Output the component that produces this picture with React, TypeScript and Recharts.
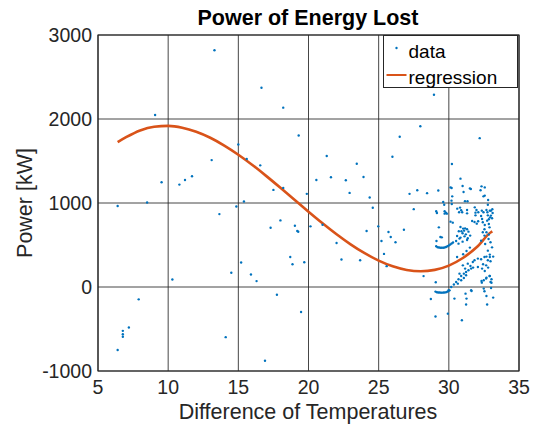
import {
  ComposedChart,
  XAxis,
  YAxis,
  CartesianGrid,
  Scatter,
  Line,
  ReferenceArea,
} from 'recharts';

// temperature difference / power pairs
const sparsePoints: [number, number][] = [
  [6.4, 965], [6.4, -750], [6.77, -522], [6.77, -562], [6.77, -593], [7.2, -483], [7.9, -147],
  [8.5, 1006], [9.07, 2048], [9.53, 1247], [10.3, 90], [10.8, 1219], [11.2, 1274], [11.7, 1318],
  [13.1, 1511], [13.3, 2818], [13.65, 868], [14.1, -597], [14.5, 169], [14.86, 959], [15.0, 1697],
  [15.2, 291], [15.4, 1018], [15.6, 1523], [15.9, 149], [16.3, 70], [16.56, 1448], [16.65, 2372],
  [16.9, -878], [17.3, 706], [17.5, 1156], [17.75, -92], [18.0, 793], [18.2, 1180], [18.2, 2135],
  [18.7, 358], [18.86, 271], [19.03, 729], [19.2, 666], [19.27, 658], [19.3, 1804], [19.47, -297],
  [19.7, 295], [19.88, 1109], [20.14, 722], [20.56, 1274], [21.0, 741], [21.3, 1559], [21.6, 1306],
  [22.0, 524], [22.35, 327], [22.66, 1270], [22.93, 1120], [23.44, 1468], [23.68, 319], [23.92, 1310],
  [24.14, 666], [24.36, 1065], [24.58, 943], [24.97, 722], [25.2, 548], [25.38, 394], [25.57, 248],
  [25.7, 654], [25.86, 595], [25.98, 1551], [26.2, 532], [26.5, 1788], [26.8, 682], [27.2, 1109],
  [27.5, 927], [27.75, 1152], [27.97, 1914], [28.2, 130], [28.45, 1117], [28.72, -143], [28.94, 2289],
];

const clusterUpper: [number, number][] = [
  [30.22, 1465], [30.83, 1290], [32.2, 1772], [29.25, 1148], [30.12, 1186], [30.2, 1178], [30.98, 1202],
  [31.5, 1174], [31.57, 1166], [31.05, 1131], [32.33, 1198], [32.56, 1186], [32.26, 1151], [32.56, 1088],
  [32.47, 1079], [30.24, 1079], [31.15, 1022], [29.6, 1012], [29.67, 980], [30.19, 1028], [30.21, 988],
  [31.33, 1020], [32.8, 1035], [32.78, 980], [29.1, 901], [29.15, 881], [29.7, 901], [29.79, 885],
  [29.7, 873], [29.86, 873], [30.6, 933], [30.8, 945], [30.88, 913], [30.95, 889], [30.73, 889],
  [31.3, 916], [31.3, 877], [31.85, 948], [31.97, 916], [31.9, 885], [32.1, 889], [32.35, 909],
  [32.47, 889], [32.68, 916], [32.75, 889], [32.92, 909], [33.0, 909], [33.1, 925], [33.12, 881],
  [32.3, 845], [32.37, 809], [32.78, 853], [32.94, 829], [33.0, 850], [33.08, 818], [32.85, 806],
  [31.9, 853], [31.66, 785], [31.83, 773], [32.09, 782], [31.99, 754], [30.12, 778], [30.28, 766],
];

const clusterMiddle: [number, number][] = [
  [29.29, 710], [30.83, 714], [31.02, 695], [31.16, 698], [31.3, 687], [31.4, 659], [31.09, 671],
  [30.9, 663], [30.71, 663], [30.98, 639], [31.21, 627], [31.12, 603], [30.83, 588], [30.76, 576],
  [30.59, 607], [30.52, 547], [30.69, 516], [30.98, 540], [31.3, 559], [31.52, 612], [31.35, 580],
  [32.42, 770], [32.56, 738], [32.73, 790], [32.85, 750], [32.9, 710], [32.54, 687], [32.68, 651],
  [32.85, 624], [32.42, 651], [32.54, 612], [32.83, 571], [32.3, 552], [32.59, 512], [32.97, 532],
  [33.08, 472], [32.78, 433], [32.92, 386], [33.16, 362], [32.68, 362],
  [29.1, 485], [29.2, 474], [29.3, 470], [29.4, 468], [29.5, 467], [29.6, 468], [29.7, 471],
  [29.8, 476], [29.9, 485], [30.0, 495], [30.1, 506], [30.2, 518], [30.3, 530],
  [29.12, 547], [29.4, 595], [29.5, 591], [31.02, 389], [31.26, 428], [31.5, 469],
];

const clusterLower: [number, number][] = [
  [30.59, 357], [31.0, 258], [31.16, 219], [31.35, 278], [31.54, 250], [31.71, 298], [31.83, 318],
  [32.07, 338], [32.3, 330], [32.54, 357], [32.78, 318], [32.92, 357], [32.97, 306], [32.37, 219],
  [32.07, 238], [32.66, 258], [31.73, 231], [32.44, 270], [32.56, 190], [32.8, 231], [32.68, 112],
  [32.92, 131], [33.04, 92], [32.33, 71],
  [29.98, -39], [30.17, 0], [30.36, 29], [30.52, 60], [30.69, 92], [30.88, 131], [31.07, 159],
  [31.23, 179], [31.4, 199], [31.59, 219], [30.88, 80], [31.07, 107], [31.23, 139], [30.76, 159],
  [30.64, 40],
  [29.05, -55], [29.15, -62], [29.25, -65], [29.35, -66], [29.45, -67], [29.55, -67], [29.65, -66],
  [29.75, -64], [29.85, -60], [29.95, -52], [30.05, -40],
  [29.07, 56], [29.05, -352], [29.93, -317], [30.4, -138], [30.93, -396], [31.19, -79], [31.26, -138],
  [31.23, -209], [31.59, -39], [32.49, -19], [32.54, -51], [32.73, -209], [33.01, -12], [32.49, 80],
  [32.66, 100], [32.9, 131], [32.97, 60], [32.35, 52], [31.62, -48], [32.68, -107], [33.16, -126],
  [33.04, 51],
];

// fitted curve, read at each degree
const regressionTemps = [
  6.4, 7, 8, 9, 10, 11, 12, 13, 14, 15, 16, 17, 18, 19, 20, 21, 22, 23, 24, 25, 26, 27, 28, 29, 30,
  31, 32, 33, 33.1,
];
const regressionPowers = [
  1725, 1783, 1864, 1908, 1918, 1897, 1849, 1777, 1684, 1575, 1453, 1320, 1181, 1039, 897, 759, 628,
  508, 402, 314, 246, 203, 188, 204, 255, 345, 476, 652, 662,
];

const xTicks = [5, 10, 15, 20, 25, 30, 35];
const yTicks = [-1000, 0, 1000, 2000, 3000];

const scatterData = [...sparsePoints, ...clusterUpper, ...clusterMiddle, ...clusterLower].map(
  ([temp, power]) => ({ temp, power })
);
const regressionData = regressionTemps.map((temp, i) => ({ temp, power: regressionPowers[i] }));

const BLUE = '#0072BD';
const ORANGE = '#D95319';
const INK = '#262626';
const FONT = '"Liberation Sans", Arial, Helvetica, sans-serif';

const Dot = (props: any) => {
  const { cx, cy } = props;
  if (cx == null || cy == null) return null;
  return <circle cx={cx} cy={cy} r={1.2} fill={BLUE} />;
};

export default function App() {
  return (
    <div style={{ position: 'absolute', left: 0, top: 0, width: 534, height: 428, background: '#fff' }}>
      <ComposedChart
        width={534}
        height={428}
        margin={{ top: 35, right: 15, bottom: 0, left: 0 }}
        style={{ fontFamily: FONT }}
      >
        <CartesianGrid stroke={INK} strokeOpacity={0.85} strokeWidth={1} />
        <XAxis
          dataKey="temp"
          type="number"
          domain={[5, 35]}
          ticks={xTicks}
          allowDataOverflow
          height={57}
          axisLine={false}
          tickLine={false}
          tickSize={0}
          tickMargin={9}
          tick={{ fontSize: 19.5, fill: INK, fontFamily: FONT }}
        />
        <YAxis
          type="number"
          domain={[-1000, 3000]}
          ticks={yTicks}
          allowDataOverflow
          width={98}
          axisLine={false}
          tickLine={false}
          tickSize={0}
          tickMargin={6}
          tick={{ fontSize: 19.5, fill: INK, fontFamily: FONT }}
        />
        <ReferenceArea
          x1={5}
          x2={35}
          y1={-1000}
          y2={3000}
          fill="none"
          stroke={INK}
          strokeWidth={1.2}
          strokeOpacity={1}
        />
        <Scatter data={scatterData} dataKey="power" shape={Dot} isAnimationActive={false} />
        <Line
          data={regressionData}
          dataKey="power"
          type="monotone"
          stroke={ORANGE}
          strokeWidth={2.6}
          dot={false}
          activeDot={false}
          isAnimationActive={false}
        />
      </ComposedChart>
      <svg
        width={534}
        height={428}
        style={{ position: 'absolute', left: 0, top: 0, pointerEvents: 'none' }}
      >
        <text
          x={308}
          y={25}
          textAnchor="middle"
          fontSize={21.5}
          fontWeight="bold"
          fontFamily={FONT}
          fill="#000"
        >
          Power of Energy Lost
        </text>
        <text x={308} y={419} textAnchor="middle" fontSize={21.5} fontFamily={FONT} fill={INK}>
          Difference of Temperatures
        </text>
        <text
          x={32}
          y={203}
          textAnchor="middle"
          fontSize={21.5}
          fontFamily={FONT}
          fill={INK}
          transform="rotate(-90 32 203)"
        >
          Power [kW]
        </text>
        <g transform="translate(383.5 35.5)">
          <rect width={134} height={52} fill="#fff" stroke={INK} strokeWidth={1} />
          <circle cx={13} cy={12.5} r={1.2} fill={BLUE} />
          <line x1={3} x2={23} y1={39.5} y2={39.5} stroke={ORANGE} strokeWidth={2} />
          <text x={25} y={22} fontSize={19} fontFamily={FONT} fill="#000">data</text>
          <text x={25} y={48} fontSize={19} fontFamily={FONT} fill="#000">regression</text>
        </g>
      </svg>
    </div>
  );
}
